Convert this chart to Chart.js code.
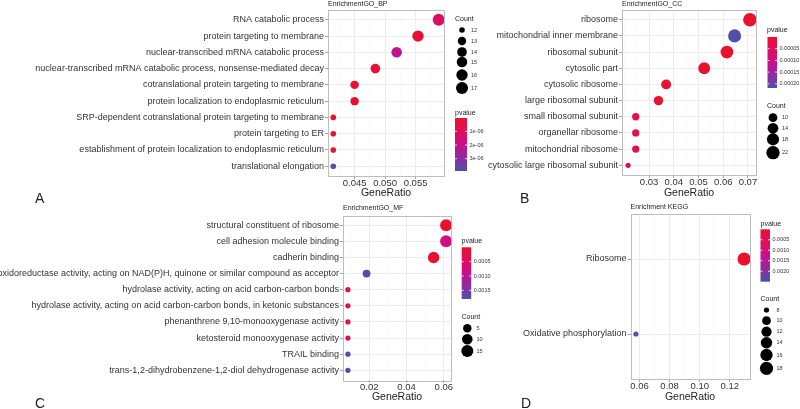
<!DOCTYPE html>
<html>
<head>
<meta charset="utf-8">
<script src="https://cdn.jsdelivr.net/npm/chart.js@4.4.1/dist/chart.umd.min.js"></script>
<style>
  body { margin: 0; background: #fff; width: 800px; height: 409px; position: relative; overflow: hidden; font-family: "Liberation Sans", Arial, sans-serif; }
  canvas { position: absolute; }
  .tag { position: absolute; font-size: 14px; line-height: 14px; color: #222; }
</style>
</head>
<body>
<canvas id="chartA" width="520" height="200" style="left:0;top:0"></canvas>
<canvas id="chartB" width="400" height="200" style="left:400px;top:0"></canvas>
<canvas id="chartC" width="520" height="209" style="left:0;top:200px"></canvas>
<canvas id="chartD" width="400" height="209" style="left:400px;top:200px"></canvas>
<div class="tag" style="left:35px;top:191px">A</div>
<div class="tag" style="left:520px;top:191px">B</div>
<div class="tag" style="left:35px;top:396px">C</div>
<div class="tag" style="left:521px;top:396px">D</div>
<script>
// ---- data ----
// A: EnrichmentGO_BP
const bpTerms = ['RNA catabolic process', 'protein targeting to membrane', 'nuclear-transcribed mRNA catabolic process',
  'nuclear-transcribed mRNA catabolic process, nonsense-mediated decay', 'cotranslational protein targeting to membrane',
  'protein localization to endoplasmic reticulum', 'SRP-dependent cotranslational protein targeting to membrane',
  'protein targeting to ER', 'establishment of protein localization to endoplasmic reticulum', 'translational elongation'];
const bpRatio = [0.0588, 0.0554, 0.0519, 0.0484, 0.0450, 0.0450, 0.0415, 0.0415, 0.0415, 0.0415];
const bpCount = [17, 16, 15, 14, 13, 13, 12, 12, 12, 12];
const bpPvalue = [1.1e-6, 2e-7, 2.1e-6, 2e-7, 1e-7, 1e-7, 2e-8, 2e-8, 3e-8, 3.9e-6];
const bpTicks = [0.045, 0.050, 0.055];
const bpTickLabels = ['0.045', '0.050', '0.055'];
const bpPTicks = [1e-6, 2e-6, 3e-6];
const bpPTickLabels = ['1e-06', '2e-06', '3e-06'];
const bpCountKeys = [12, 13, 14, 15, 16, 17];

// B: EnrichmentGO_CC
const ccTerms = ['ribosome', 'mitochondrial inner membrane', 'ribosomal subunit', 'cytosolic part', 'cytosolic ribosome',
  'large ribosomal subunit', 'small ribosomal subunit', 'organellar ribosome', 'mitochondrial ribosome',
  'cytosolic large ribosomal subunit'];
const ccRatio = [0.0708, 0.0646, 0.0615, 0.0523, 0.0369, 0.0338, 0.0246, 0.0246, 0.0246, 0.0215];
const ccCount = [23, 21, 20, 17, 12, 11, 8, 8, 8, 7];
const ccPvalue = [1e-8, 2.18e-4, 1e-7, 1e-7, 1e-6, 2e-6, 2.2e-5, 4.5e-5, 4.8e-5, 6.5e-5];
const ccTicks = [0.03, 0.04, 0.05, 0.06, 0.07];
const ccTickLabels = ['0.03', '0.04', '0.05', '0.06', '0.07'];
const ccPTicks = [5e-5, 1e-4, 1.5e-4, 2e-4];
const ccPTickLabels = ['0.00005', '0.00010', '0.00015', '0.00020'];
const ccCountKeys = [10, 14, 18, 22];

// C: EnrichmentGO_MF
const mfTerms = ['structural constituent of ribosome', 'cell adhesion molecule binding', 'cadherin binding',
  'oxidoreductase activity, acting on NAD(P)H, quinone or similar compound as acceptor',
  'hydrolase activity, acting on acid carbon-carbon bonds',
  'hydrolase activity, acting on acid carbon-carbon bonds, in ketonic substances',
  'phenanthrene 9,10-monooxygenase activity', 'ketosteroid monooxygenase activity', 'TRAIL binding',
  'trans-1,2-dihydrobenzene-1,2-diol dehydrogenase activity'];
const mfRatio = [0.0612, 0.0612, 0.0545, 0.0185, 0.0085, 0.0085, 0.0085, 0.0085, 0.0085, 0.0085];
const mfCount = [15, 15, 13, 4, 2, 2, 2, 2, 2, 2];
const mfPvalue = [1e-9, 8e-4, 4e-5, 1.8e-3, 5e-4, 5e-4, 5e-4, 5e-4, 1.78e-3, 1.78e-3];
const mfTicks = [0.02, 0.04, 0.06];
const mfTickLabels = ['0.02', '0.04', '0.06'];
const mfPTicks = [5e-4, 1e-3, 1.5e-3];
const mfPTickLabels = ['0.0005', '0.0010', '0.0015'];
const mfCountKeys = [5, 10, 15];

// D: Enrichment KEGG
const keggTerms = ['Ribosome', 'Oxidative phosphorylation'];
const keggRatio = [0.1295, 0.0576];
const keggCount = [18, 8];
const keggPvalue = [1e-7, 2.5e-3];
const keggTicks = [0.06, 0.08, 0.10, 0.12];
const keggTickLabels = ['0.06', '0.08', '0.10', '0.12'];
const keggPTicks = [5e-4, 1e-3, 1.5e-3, 2e-3];
const keggPTickLabels = ['0.0005', '0.0010', '0.0015', '0.0020'];
const keggCountKeys = [8, 10, 12, 14, 16, 18];

// ---- colour scale: red (low p) -> magenta -> blue (high p) ----
const colorStops = [[232, 18, 46], [224, 14, 92], [198, 16, 140], [142, 44, 158], [80, 80, 168]];
function pColor(t) {
  t = Math.max(0, Math.min(1, t)) * (colorStops.length - 1);
  const i = Math.min(Math.floor(t), colorStops.length - 2), f = t - i;
  const c = colorStops[i].map((v, k) => Math.round(v + (colorStops[i + 1][k] - v) * f));
  return 'rgb(' + c.join(',') + ')';
}

Chart.defaults.font.family = '"Liberation Sans", Arial, sans-serif';

// draws panel frame, panel title and the two ggplot style legends
const decor = {
  id: 'decor',
  afterDraw(chart, args, o) {
    const ctx = chart.ctx, a = chart.chartArea;
    const ox = o.box.left, oy = o.box.top;
    ctx.save();
    ctx.strokeStyle = '#bdbdbd';
    ctx.lineWidth = 1;
    ctx.strokeRect(Math.round(a.left) + 0.5, Math.round(a.top) + 0.5, Math.round(a.width), Math.round(a.height));

    ctx.fillStyle = '#222';
    ctx.textAlign = 'left';
    ctx.textBaseline = 'middle';
    ctx.font = '7px "Liberation Sans", Arial';
    ctx.fillText(o.title, a.left, o.titleY - oy);

    // pvalue colour bar
    const L = o.legend;
    const bx = L.barX - ox, by = L.barTop - oy, bw = L.barW, bh = L.barH;
    ctx.fillText('pvalue', L.pTitle[0] - ox, L.pTitle[1] - oy);
    const g = ctx.createLinearGradient(0, by, 0, by + bh);
    for (let i = 0; i <= 20; i++) g.addColorStop(i / 20, pColor(i / 20));
    ctx.fillStyle = g;
    ctx.fillRect(bx, by, bw, bh);
    ctx.font = '5.5px "Liberation Sans", Arial';
    o.pTicks.forEach((v, i) => {
      const y = by + (v - o.pLo) / (o.pHi - o.pLo) * bh;
      ctx.strokeStyle = 'rgba(255,255,255,0.8)';
      ctx.beginPath();
      ctx.moveTo(bx, y); ctx.lineTo(bx + 2, y);
      ctx.moveTo(bx + bw - 2, y); ctx.lineTo(bx + bw, y);
      ctx.stroke();
      ctx.fillStyle = '#333';
      ctx.fillText(o.pTickLabels[i], bx + bw + 2.5, y);
    });

    // Count size legend
    ctx.fillStyle = '#222';
    ctx.font = '7px "Liberation Sans", Arial';
    ctx.fillText('Count', L.cTitle[0] - ox, L.cTitle[1] - oy);
    ctx.font = '5.5px "Liberation Sans", Arial';
    o.countKeys.forEach((c, i) => {
      const y = L.keyY[i] - oy;
      ctx.fillStyle = '#000';
      ctx.beginPath();
      ctx.arc(L.keyX - ox, y, o.radius(c), 0, Math.PI * 2);
      ctx.fill();
      ctx.fillStyle = '#333';
      ctx.fillText(String(c), L.keyLabelX - ox, y);
    });
    ctx.restore();
  }
};

function close(a, b) { return Math.abs(a - b) < 1e-9; }

function makePanel(id, p) {
  const n = p.terms.length;
  const lo = Math.min(...p.ratio), hi = Math.max(...p.ratio), pad = (hi - lo) * 0.05;
  const xmin = lo - pad, xmax = hi + pad;
  const pLo = Math.min(...p.pvalue), pHi = Math.max(...p.pvalue);
  const cLo = Math.min(...p.count), cHi = Math.max(...p.count);
  const radius = c => p.rMin + Math.sqrt(Math.max(0, (c - cLo) / (cHi - cLo))) * (p.rMax - p.rMin);

  // major + minor breaks
  const step = p.ticks[1] - p.ticks[0];
  const xBreaks = [];
  for (let v = p.ticks[0] - step * Math.ceil((p.ticks[0] - xmin) / step * 2) / 2; v <= xmax + 1e-12; v += step / 2) {
    if (v >= xmin - 1e-12) xBreaks.push(+v.toFixed(6));
  }
  const isMajor = v => p.ticks.some(t => close(t, v));
  const box = p.box, area = p.area;
  const lh = 10.5 * 1.2;

  new Chart(document.getElementById(id), {
    type: 'bubble',
    data: {
      datasets: [{
        data: p.ratio.map((x, i) => ({ x: x, y: i, r: radius(p.count[i]) })),
        backgroundColor: p.pvalue.map(v => pColor((v - pLo) / (pHi - pLo))),
        borderWidth: 0,
        hoverBorderWidth: 0,
        clip: false
      }]
    },
    options: {
      responsive: false,
      animation: false,
      events: [],
      layout: { padding: { left: 0, top: area.t - box.top, right: box.left + box.width - area.r, bottom: 0 } },
      plugins: {
        legend: { display: false },
        tooltip: { enabled: false },
        decor: {
          box: box, title: p.title, titleY: p.titleY, legend: p.legend,
          pLo: pLo, pHi: pHi, pTicks: p.pTicks, pTickLabels: p.pTickLabels,
          countKeys: p.countKeys, radius: radius
        }
      },
      scales: {
        x: {
          type: 'linear',
          min: xmin,
          max: xmax,
          afterBuildTicks: s => { s.ticks = xBreaks.map(v => ({ value: v })); },
          afterFit: s => { s.height = box.top + box.height - area.b; },
          border: { display: false },
          grid: {
            color: c => isMajor(c.tick.value) ? '#ebebeb' : '#f4f4f4',
            lineWidth: c => isMajor(c.tick.value) ? 0.9 : 0.5,
            tickColor: c => isMajor(c.tick.value) ? '#9a9a9a' : 'rgba(0,0,0,0)',
            tickLength: 3
          },
          ticks: {
            autoSkip: false, maxRotation: 0, padding: 0, color: '#333',
            font: { size: 9.5, lineHeight: 1 },
            callback: v => { const k = p.ticks.findIndex(t => close(t, v)); return k < 0 ? '' : p.tickLabels[k]; }
          },
          title: {
            display: true, text: 'GeneRatio', color: '#222',
            font: { size: 10.5, lineHeight: 1.2 },
            padding: { top: 0, bottom: box.top + box.height - p.axisTitleY - lh / 2 }
          }
        },
        y: {
          type: 'linear',
          reverse: true,
          min: -0.6,
          max: n - 0.4,
          afterBuildTicks: s => { s.ticks = p.terms.map((t, i) => ({ value: i })); },
          afterFit: s => { s.width = area.l - box.left; },
          border: { display: false },
          grid: { color: '#ebebeb', lineWidth: 0.9, tickColor: '#9a9a9a', tickLength: 3 },
          ticks: {
            autoSkip: false, padding: 1, color: '#333',
            font: { size: 9 },
            callback: v => p.terms[v]
          }
        }
      }
    },
    plugins: [decor]
  });
}

makePanel('chartA', {
  title: 'EnrichmentGO_BP', terms: bpTerms, ratio: bpRatio, count: bpCount, pvalue: bpPvalue,
  ticks: bpTicks, tickLabels: bpTickLabels, pTicks: bpPTicks, pTickLabels: bpPTickLabels, countKeys: bpCountKeys,
  rMin: 2.8, rMax: 6,
  box: { left: 0, top: 0, width: 520, height: 200 },
  area: { l: 328, r: 444, t: 10, b: 176 }, titleY: 4.5, axisTitleY: 193,
  legend: { pTitle: [455, 113], barX: 455, barTop: 118, barW: 12, barH: 53,
            cTitle: [455, 19], keyX: 462, keyLabelX: 471, keyY: [30, 41, 52, 62, 75, 88] }
});

makePanel('chartB', {
  title: 'EnrichmentGO_CC', terms: ccTerms, ratio: ccRatio, count: ccCount, pvalue: ccPvalue,
  ticks: ccTicks, tickLabels: ccTickLabels, pTicks: ccPTicks, pTickLabels: ccPTickLabels, countKeys: ccCountKeys,
  rMin: 2.6, rMax: 6.8,
  box: { left: 400, top: 0, width: 400, height: 200 },
  area: { l: 622, r: 756, t: 10, b: 175 }, titleY: 4.5, axisTitleY: 193,
  legend: { pTitle: [767, 30], barX: 767.5, barTop: 37, barW: 9.5, barH: 51,
            cTitle: [767, 106], keyX: 773, keyLabelX: 782, keyY: [117.7, 128.3, 139.3, 152.7] }
});

makePanel('chartC', {
  title: 'EnrichmentGO_MF', terms: mfTerms, ratio: mfRatio, count: mfCount, pvalue: mfPvalue,
  ticks: mfTicks, tickLabels: mfTickLabels, pTicks: mfPTicks, pTickLabels: mfPTickLabels, countKeys: mfCountKeys,
  rMin: 2.6, rMax: 6.0,
  box: { left: 0, top: 200, width: 520, height: 209 },
  area: { l: 343, r: 451, t: 215.5, b: 380 }, titleY: 208, axisTitleY: 397,
  legend: { pTitle: [461.5, 241.5], barX: 461.7, barTop: 247.3, barW: 9.5, barH: 51.7,
            cTitle: [461.5, 317.3], keyX: 467.3, keyLabelX: 476.5, keyY: [328.3, 339.3, 351] }
});

makePanel('chartD', {
  title: 'Enrichment KEGG', terms: keggTerms, ratio: keggRatio, count: keggCount, pvalue: keggPvalue,
  ticks: keggTicks, tickLabels: keggTickLabels, pTicks: keggPTicks, pTickLabels: keggPTickLabels, countKeys: keggCountKeys,
  rMin: 2.6, rMax: 6.6,
  box: { left: 400, top: 200, width: 400, height: 209 },
  area: { l: 630.5, r: 749.5, t: 214, b: 379 }, titleY: 207.3, axisTitleY: 397,
  legend: { pTitle: [760.5, 224], barX: 760.5, barTop: 229.3, barW: 9.5, barH: 52.4,
            cTitle: [760.5, 299.3], keyX: 766.5, keyLabelX: 776.5, keyY: [310, 320.7, 331.7, 342.7, 355, 368.3] }
});
</script>
</body>
</html>
